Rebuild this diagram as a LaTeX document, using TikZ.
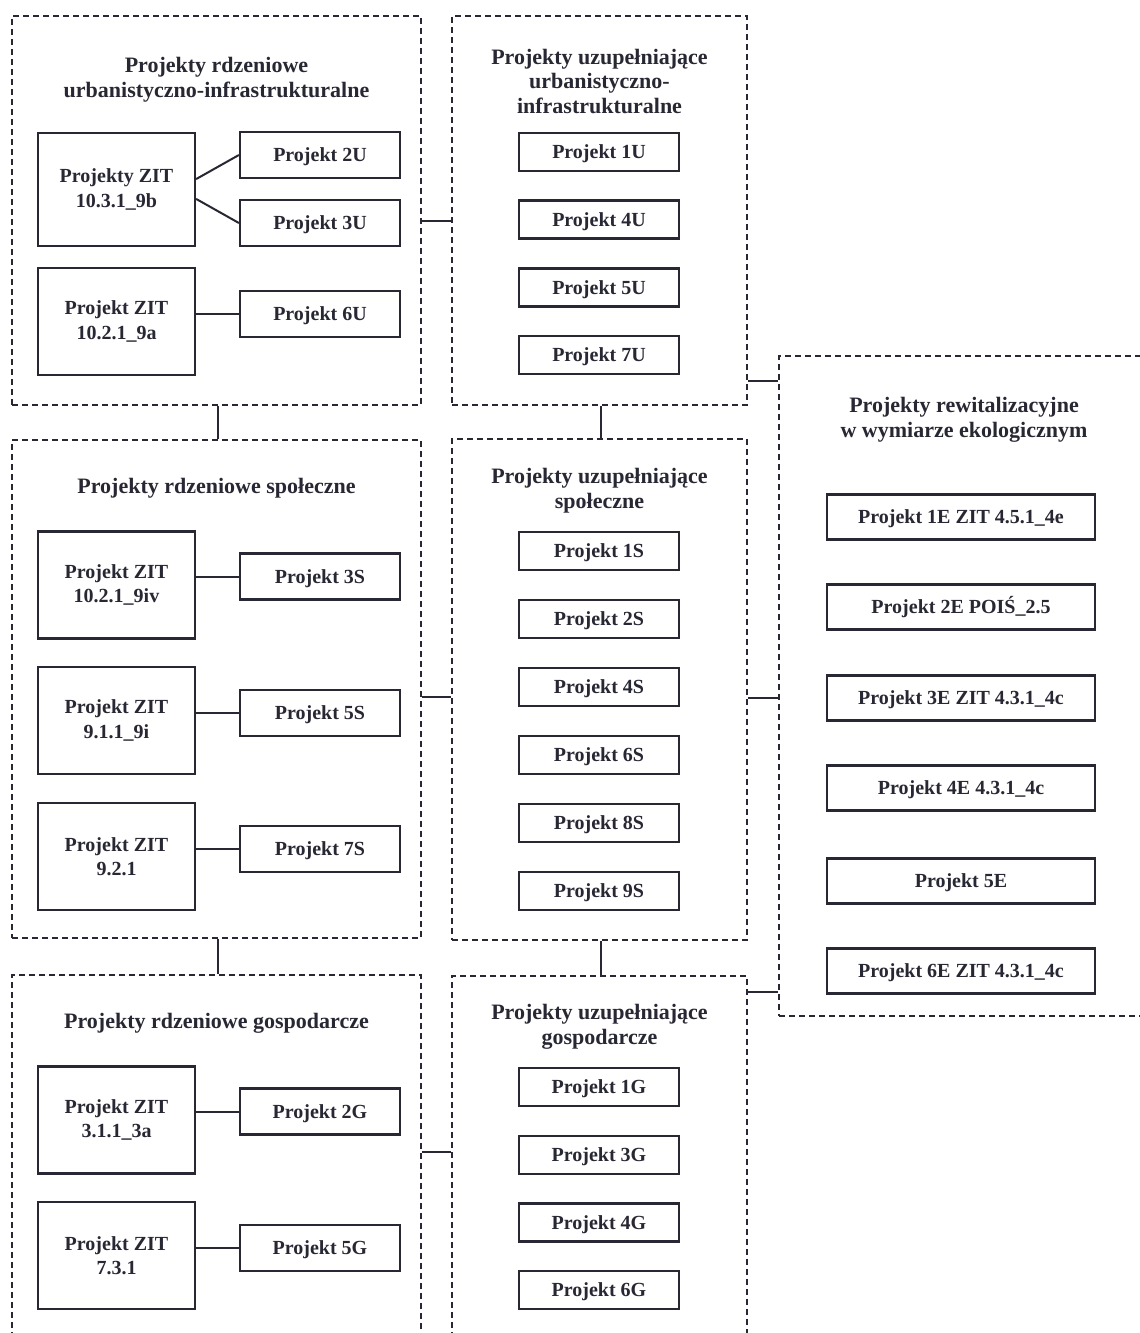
\documentclass[tikz,border=0pt]{standalone}
\usepackage{fontspec}
\setmainfont{Liberation Serif}
\usetikzlibrary{calc}
\definecolor{ink}{RGB}{40,40,52}
\tikzset{
  grp/.style={draw=ink, line width=1.9pt, dash pattern=on 6pt off 4pt, inner sep=0pt},
  ttl/.style={text=ink, font=\fontsize{22}{25}\selectfont\bfseries, align=center, inner sep=0pt},
  itm/.style={draw=ink, line width=2.2pt, fill=white, text=ink, font=\fontsize{20}{24.5}\selectfont\bfseries, align=center, inner sep=0pt, minimum width=160pt, minimum height=#1},
  itm/.default=46pt,
  one/.style={text height=14pt, text depth=1pt},
  zit/.style={itm=107pt, minimum width=157pt},
  sml/.style={itm, one},
  mid/.style={itm=38pt, minimum width=160pt, one},
  eco/.style={itm=45pt, minimum width=268pt, one},
  con/.style={draw=ink, line width=2pt}
}
\begin{document}
\begin{tikzpicture}[x=1pt,y=-1pt]
\useasboundingbox (0,0) rectangle (1140,1333);
\fill[white] (0,0) rectangle (1140,1333);
\clip (0,0) rectangle (1140,1333);

% group frames
\node[grp, minimum width=409pt, minimum height=389pt] (A) at (216.5,210.5) {};
\node[grp, minimum width=409pt, minimum height=498pt] (B) at (216.5,689) {};
\node[grp, minimum width=409pt, minimum height=375pt] (C) at (216.5,1162.5) {};
\node[grp, minimum width=295pt, minimum height=389pt] (D) at (599.5,210.5) {};
\node[grp, minimum width=295pt, minimum height=501pt] (E) at (599.5,689.5) {};
\node[grp, minimum width=295pt, minimum height=374pt] (F) at (599.5,1163) {};
\node[grp, minimum width=371pt, minimum height=660pt] (G) at (964.5,686) {};

% titles
\node[ttl] (tA) at (216.5,79.5) {Projekty rdzeniowe\\urbanistyczno-infrastrukturalne};
\node[ttl] (tB) at (216.5,488) {Projekty rdzeniowe społeczne};
\node[ttl] (tC) at (216.5,1023) {Projekty rdzeniowe gospodarcze};
\node[ttl] (tD) at (599.5,81.5) {Projekty uzupełniające\\urbanistyczno-\\infrastrukturalne};
\node[ttl] (tE) at (599.5,491) {Projekty uzupełniające\\społeczne};
\node[ttl] (tF) at (599.5,1027) {Projekty uzupełniające\\gospodarcze};
\node[ttl] (tG) at (964,420) {Projekty rewitalizacyjne\\w wymiarze ekologicznym};

% left column
\node[zit, minimum height=113pt] (z1) at (116.5,189.5) {Projekty ZIT\\10.3.1\_9b};
\node[zit] (z2) at (116.5,321.5) {Projekt ZIT\\10.2.1\_9a};
\node[zit] (z3) at (116.5,585) {Projekt ZIT\\10.2.1\_9iv};
\node[zit] (z4) at (116.5,720.5) {Projekt ZIT\\9.1.1\_9i};
\node[zit] (z5) at (116.5,856.5) {Projekt ZIT\\9.2.1};
\node[zit] (z6) at (116.5,1120) {Projekt ZIT\\3.1.1\_3a};
\node[zit] (z7) at (116.5,1255.5) {Projekt ZIT\\7.3.1};

\node[sml] (u2) at (320,155) {Projekt 2U};
\node[sml] (u3) at (320,223) {Projekt 3U};
\node[sml] (u6) at (320,314) {Projekt 6U};
\node[sml] (s3) at (320,576.5) {Projekt 3S};
\node[sml] (s5) at (320,713) {Projekt 5S};
\node[sml] (s7) at (320,849) {Projekt 7S};
\node[sml] (g2) at (320,1111.5) {Projekt 2G};
\node[sml] (g5) at (320,1248) {Projekt 5G};

% middle column
\node[mid] (u1) at (599,152) {Projekt 1U};
\node[mid] (u4) at (599,219.5) {Projekt 4U};
\node[mid] (u5) at (599,287.5) {Projekt 5U};
\node[mid] (u7) at (599,355) {Projekt 7U};
\node[mid] (s1) at (599,551) {Projekt 1S};
\node[mid] (s2) at (599,619) {Projekt 2S};
\node[mid] (s4) at (599,687) {Projekt 4S};
\node[mid] (s6) at (599,755) {Projekt 6S};
\node[mid] (s8) at (599,823) {Projekt 8S};
\node[mid] (s9) at (599,891) {Projekt 9S};
\node[mid] (g1) at (599,1087) {Projekt 1G};
\node[mid] (g3) at (599,1155) {Projekt 3G};
\node[mid] (g4) at (599,1222.5) {Projekt 4G};
\node[mid] (g6) at (599,1290) {Projekt 6G};

% right column
\node[eco] (e1) at (961,517) {Projekt 1E ZIT 4.5.1\_4e};
\node[eco] (e2) at (961,607) {Projekt 2E POIŚ\_2.5};
\node[eco] (e3) at (961,698) {Projekt 3E ZIT 4.3.1\_4c};
\node[eco] (e4) at (961,788) {Projekt 4E 4.3.1\_4c};
\node[eco] (e5) at (961,881) {Projekt 5E};
\node[eco] (e6) at (961,971) {Projekt 6E ZIT 4.3.1\_4c};

% inner connectors
\draw[con] (z1.east |- u2.south) -- (u2.west);
\draw[con] (z1.east |- u3.north) -- (u3.west);
\draw[con] (z2.east |- u6.west) -- (u6.west);
\draw[con] (z3.east |- s3.west) -- (s3.west);
\draw[con] (z4.east |- s5.west) -- (s5.west);
\draw[con] (z5.east |- s7.west) -- (s7.west);
\draw[con] (z6.east |- g2.west) -- (g2.west);
\draw[con] (z7.east |- g5.west) -- (g5.west);

% group connectors
\draw[con] (A.south -| 218,0) -- (B.north -| 218,0);
\draw[con] (B.south -| 218,0) -- (C.north -| 218,0);
\draw[con] (D.south -| 601,0) -- (E.north -| 601,0);
\draw[con] (E.south -| 601,0) -- (F.north -| 601,0);
\draw[con] (A.east |- 0,221) -- (D.west |- 0,221);
\draw[con] (B.east |- 0,697) -- (E.west |- 0,697);
\draw[con] (C.east |- 0,1152) -- (F.west |- 0,1152);
\draw[con] (D.east |- 0,381) -- (G.west |- 0,381);
\draw[con] (E.east |- 0,698) -- (G.west |- 0,698);
\draw[con] (F.east |- 0,992) -- (G.west |- 0,992);
\end{tikzpicture}
\end{document}
